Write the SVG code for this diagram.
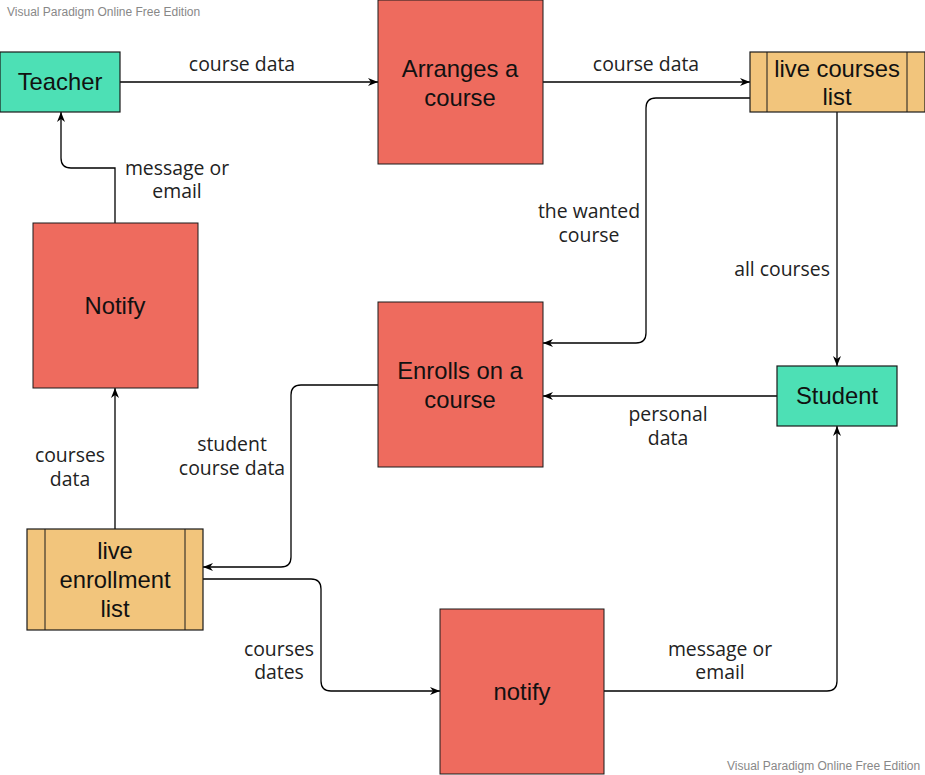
<svg xmlns="http://www.w3.org/2000/svg" width="925" height="775" viewBox="0 0 925 775">
<defs>
<marker id="arr" viewBox="0 0 10 10" refX="10" refY="5" markerWidth="10" markerHeight="10" markerUnits="userSpaceOnUse" orient="auto">
<path d="M0,1 L10,5 L0,9 L3,5 Z" fill="#000"/>
</marker>
<style>
.ext{fill:#4de0b5;stroke:#1a1a1a;stroke-width:1.2}
.proc{fill:#ee6b5e;stroke:#1a1a1a;stroke-width:1}
.store{fill:#f2c57c;stroke:#1a1a1a;stroke-width:1.2}
.nt{font-family:"Liberation Sans",Arial,sans-serif;font-size:23.8px;fill:#111;text-anchor:middle}
.el{font-family:"Open Sans","Noto Sans",sans-serif;font-size:19.4px;fill:#222;text-anchor:middle}
.wm{font-family:"Liberation Sans",Arial,sans-serif;font-size:12px;fill:#888}
.c{fill:none;stroke:#000;stroke-width:1.3;marker-end:url(#arr)}
</style>
</defs>
<rect width="925" height="775" fill="#fff"/>
<text class="wm" x="7" y="16">Visual Paradigm Online Free Edition</text>
<text class="wm" x="727" y="770">Visual Paradigm Online Free Edition</text>

<g id="connectors">
<path class="c" d="M120,82 H378"/>
<path class="c" d="M543,82 H750"/>
<path class="c" d="M750,98 H656 Q646,98 646,108 V333 Q646,343 636,343 H543"/>
<path class="c" d="M837,112 V366"/>
<path class="c" d="M777,396 H543"/>
<path class="c" d="M378,385 H301 Q291,385 291,395 V557 Q291,567 281,567 H203"/>
<path class="c" d="M115,529 V388"/>
<path class="c" d="M115,223 V168 H71 Q61,168 61,158 V112"/>
<path class="c" d="M203,579 H311 Q321,579 321,589 V681 Q321,691 331,691 H440"/>
<path class="c" d="M604,691 H827 Q837,691 837,681 V426"/>
<text class="el" x="242" y="71">course data</text>
<text class="el" x="646" y="71">course data</text>
<text class="el" x="589" y="218">the wanted</text>
<text class="el" x="589" y="242">course</text>
<text class="el" x="782" y="276">all courses</text>
<text class="el" x="668" y="421">personal</text>
<text class="el" x="668" y="445">data</text>
<text class="el" x="232" y="451">student</text>
<text class="el" x="232" y="475">course data</text>
<text class="el" x="70" y="462">courses</text>
<text class="el" x="70" y="486">data</text>
<text class="el" x="177" y="175">message or</text>
<text class="el" x="177" y="198">email</text>
<text class="el" x="279" y="656">courses</text>
<text class="el" x="279" y="679">dates</text>
<text class="el" x="720" y="656">message or</text>
<text class="el" x="720" y="679">email</text>
</g>

<g id="teacher"><rect class="ext" x="0" y="52" width="120" height="60"/><text class="nt" x="60" y="90">Teacher</text></g>
<g id="arranges"><rect class="proc" x="378" y="0" width="165" height="164"/><text class="nt" x="460" y="77">Arranges a</text><text class="nt" x="460" y="106">course</text></g>
<g id="live-courses"><rect class="store" x="750" y="52" width="175" height="60"/><line x1="767" y1="52" x2="767" y2="112" stroke="#1a1a1a"/><line x1="907" y1="52" x2="907" y2="112" stroke="#1a1a1a"/><text class="nt" x="837" y="77">live courses</text><text class="nt" x="837" y="105">list</text></g>
<g id="notify-teacher"><rect class="proc" x="33" y="223" width="165" height="165"/><text class="nt" x="115" y="314">Notify</text></g>
<g id="enrolls"><rect class="proc" x="378" y="302" width="165" height="165"/><text class="nt" x="460" y="379">Enrolls on a</text><text class="nt" x="460" y="408">course</text></g>
<g id="student"><rect class="ext" x="777" y="366" width="120" height="60"/><text class="nt" x="837" y="404">Student</text></g>
<g id="live-enrollment"><rect class="store" x="27" y="529" width="176" height="101"/><line x1="45" y1="529" x2="45" y2="630" stroke="#1a1a1a"/><line x1="185" y1="529" x2="185" y2="630" stroke="#1a1a1a"/><text class="nt" x="115" y="559">live</text><text class="nt" x="115" y="588">enrollment</text><text class="nt" x="115" y="617">list</text></g>
<g id="notify-student"><rect class="proc" x="440" y="609" width="164" height="165"/><text class="nt" x="522" y="700">notify</text></g>
</svg>
